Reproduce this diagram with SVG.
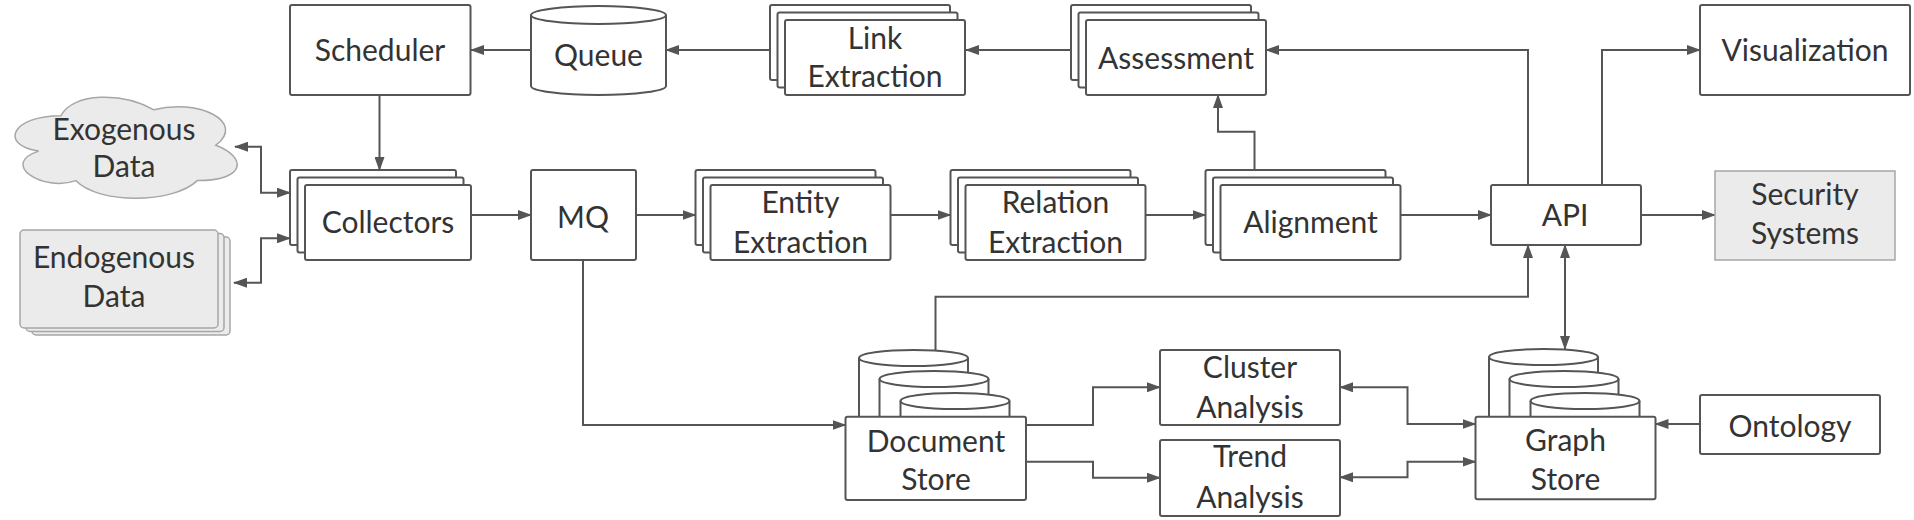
<svg xmlns="http://www.w3.org/2000/svg" width="1914" height="520" viewBox="0 0 1914 520">
<defs>
<style>
.b{fill:#fff;stroke:#555;stroke-width:2}
.g{fill:#ebebeb;stroke:#a6a6a6;stroke-width:1.5}
.t{font-family:Lato,"Liberation Sans",sans-serif;font-size:30px;fill:#333;text-anchor:middle}
.c{fill:none;stroke:#555;stroke-width:2}
</style>
<marker id="ah" viewBox="0 0 14 10" refX="13" refY="5" markerWidth="14" markerHeight="10" markerUnits="userSpaceOnUse" orient="auto-start-reverse">
<path d="M0,0 L14,5 L0,10 Z" fill="#555"/>
</marker>
</defs>
<rect width="1914" height="520" fill="#fff"/>

<g id="connectors">
<path class="c" d="M531,50 H471" marker-end="url(#ah)"/>
<path class="c" d="M770,50 H666" marker-end="url(#ah)"/>
<path class="c" d="M1071,50 H966" marker-end="url(#ah)"/>
<path class="c" d="M1528,185 V50 H1266" marker-end="url(#ah)"/>
<path class="c" d="M1602,185 V50 H1700" marker-end="url(#ah)"/>
<path class="c" d="M379.5,95 V170" marker-end="url(#ah)"/>
<path class="c" d="M235,146.7 H261 V192.7 H290" marker-start="url(#ah)" marker-end="url(#ah)"/>
<path class="c" d="M234,282.7 H261 V238.3 H290" marker-start="url(#ah)" marker-end="url(#ah)"/>
<path class="c" d="M471,215 H531" marker-end="url(#ah)"/>
<path class="c" d="M636,215 H695.5" marker-end="url(#ah)"/>
<path class="c" d="M890.5,215 H950.5" marker-end="url(#ah)"/>
<path class="c" d="M1145.5,215 H1205.5" marker-end="url(#ah)"/>
<path class="c" d="M1400.5,215 H1491" marker-end="url(#ah)"/>
<path class="c" d="M1641,215 H1715" marker-end="url(#ah)"/>
<path class="c" d="M1254.5,170 V131.7 H1218 V95" marker-end="url(#ah)"/>
<path class="c" d="M583,260 V425 H845.5" marker-end="url(#ah)"/>
<path class="c" d="M935.5,350 V296.7 H1528 V245" marker-end="url(#ah)"/>
<path class="c" d="M1565,245 V349" marker-start="url(#ah)" marker-end="url(#ah)"/>
<path class="c" d="M1026,425 H1093 V387.3 H1160" marker-end="url(#ah)"/>
<path class="c" d="M1026,461.7 H1093 V477.7 H1160" marker-end="url(#ah)"/>
<path class="c" d="M1340,387.3 H1407.5 V424 H1475.5" marker-start="url(#ah)" marker-end="url(#ah)"/>
<path class="c" d="M1340,477.3 H1407.5 V461.7 H1475.5" marker-start="url(#ah)" marker-end="url(#ah)"/>
<path class="c" d="M1700,424 H1655.5" marker-end="url(#ah)"/>
</g>

<g id="scheduler">
<rect class="b" x="290" y="5" width="180.5" height="90" rx="2"/>
<text class="t" x="380" y="61">Scheduler</text>
</g>

<g id="queue">
<path class="b" d="M531,15 A67.5,9 0 0 1 666,15 V86 A67.5,9 0 0 1 531,86 Z"/>
<path class="c" d="M531,15 A67.5,9 0 0 0 666,15"/>
<text class="t" x="598.5" y="65.5">Queue</text>
</g>

<g id="link-extraction">
<rect class="b" x="770" y="5" width="180" height="75" rx="2"/>
<rect class="b" x="777.5" y="12.5" width="180" height="75" rx="2"/>
<rect class="b" x="785" y="20" width="180" height="75" rx="2"/>
<text class="t" x="875" y="49.3">Link</text>
<text class="t" x="875" y="87.3">Extraction</text>
</g>

<g id="assessment">
<rect class="b" x="1071" y="5" width="180" height="75" rx="2"/>
<rect class="b" x="1078.5" y="12.5" width="180" height="75" rx="2"/>
<rect class="b" x="1086" y="20" width="180" height="75" rx="2"/>
<text class="t" x="1176" y="69">Assessment</text>
</g>

<g id="visualization">
<rect class="b" x="1700" y="5" width="210" height="90" rx="2"/>
<text class="t" x="1805" y="61">Visualization</text>
</g>

<g id="exogenous-data">
<path class="g" d="M60.9,115.7 C11.3,115.7 -1.1,145.2 38.6,151.1 C-1.1,164.1 43.5,192.4 75.8,180.6 C98.1,204.2 172.5,204.2 197.3,180.6 C246.9,180.6 246.9,157 215.9,145.2 C246.9,121.6 197.3,98 153.9,109.8 C122.9,92.1 73.3,92.1 60.9,115.7 Z"/>
<text class="t" x="124" y="140">Exogenous</text>
<text class="t" x="124" y="177.3">Data</text>
</g>

<g id="endogenous-data">
<rect class="g" x="32" y="237" width="198" height="98" rx="4"/>
<rect class="g" x="26" y="233.5" width="198" height="98" rx="4"/>
<rect class="g" x="20" y="230" width="198" height="98" rx="4"/>
<text class="t" x="114" y="268.3">Endogenous</text>
<text class="t" x="114" y="307.3">Data</text>
</g>

<g id="collectors">
<rect class="b" x="290" y="170" width="166" height="75" rx="2"/>
<rect class="b" x="297.5" y="177.5" width="166" height="75" rx="2"/>
<rect class="b" x="305" y="185" width="166" height="75" rx="2"/>
<text class="t" x="388" y="233.3">Collectors</text>
</g>

<g id="mq">
<rect class="b" x="531" y="170" width="105" height="90" rx="2"/>
<text class="t" x="583" y="228.3">MQ</text>
</g>

<g id="entity-extraction">
<rect class="b" x="695.5" y="170" width="180" height="75" rx="2"/>
<rect class="b" x="703" y="177.5" width="180" height="75" rx="2"/>
<rect class="b" x="710.5" y="185" width="180" height="75" rx="2"/>
<text class="t" x="800.5" y="213.3">Entity</text>
<text class="t" x="800.5" y="253.3">Extraction</text>
</g>

<g id="relation-extraction">
<rect class="b" x="950.5" y="170" width="180" height="75" rx="2"/>
<rect class="b" x="958" y="177.5" width="180" height="75" rx="2"/>
<rect class="b" x="965.5" y="185" width="180" height="75" rx="2"/>
<text class="t" x="1055.5" y="213.3">Relation</text>
<text class="t" x="1055.5" y="253.3">Extraction</text>
</g>

<g id="alignment">
<rect class="b" x="1205.5" y="170" width="180" height="75" rx="2"/>
<rect class="b" x="1213" y="177.5" width="180" height="75" rx="2"/>
<rect class="b" x="1220.5" y="185" width="180" height="75" rx="2"/>
<text class="t" x="1310.5" y="233.3">Alignment</text>
</g>

<g id="api">
<rect class="b" x="1491" y="185" width="150" height="60" rx="2"/>
<text class="t" x="1565" y="226">API</text>
</g>

<g id="security-systems">
<rect class="g" x="1715" y="171" width="180" height="89"/>
<text class="t" x="1805" y="205">Security</text>
<text class="t" x="1805" y="244">Systems</text>
</g>

<g id="document-store">
<path class="b" d="M859,358 A54.5,8 0 0 1 968,358 V417 H859 Z"/>
<path class="c" d="M859,358 A54.5,8 0 0 0 968,358"/>
<path class="b" d="M879.5,379 A54.5,8 0 0 1 988.5,379 V417 H879.5 Z"/>
<path class="c" d="M879.5,379 A54.5,8 0 0 0 988.5,379"/>
<path class="b" d="M900.5,401 A54.5,8 0 0 1 1009.5,401 V417 H900.5 Z"/>
<path class="c" d="M900.5,401 A54.5,8 0 0 0 1009.5,401"/>
<rect class="b" x="845.5" y="416.7" width="180.5" height="83.3" rx="2"/>
<text class="t" x="936" y="451.5">Document</text>
<text class="t" x="936" y="490">Store</text>
</g>

<g id="cluster-analysis">
<rect class="b" x="1160" y="350" width="180" height="75" rx="2"/>
<text class="t" x="1250" y="378.3">Cluster</text>
<text class="t" x="1250" y="418.3">Analysis</text>
</g>

<g id="trend-analysis">
<rect class="b" x="1160" y="440" width="180" height="76" rx="2"/>
<text class="t" x="1250" y="466.7">Trend</text>
<text class="t" x="1250" y="508.3">Analysis</text>
</g>

<g id="graph-store">
<path class="b" d="M1489,357 A54.5,8 0 0 1 1598,357 V417 H1489 Z"/>
<path class="c" d="M1489,357 A54.5,8 0 0 0 1598,357"/>
<path class="b" d="M1509.5,379 A54.5,8 0 0 1 1618.5,379 V417 H1509.5 Z"/>
<path class="c" d="M1509.5,379 A54.5,8 0 0 0 1618.5,379"/>
<path class="b" d="M1530.5,401 A54.5,8 0 0 1 1639.5,401 V417 H1530.5 Z"/>
<path class="c" d="M1530.5,401 A54.5,8 0 0 0 1639.5,401"/>
<rect class="b" x="1475.5" y="416.7" width="180" height="82.6" rx="2"/>
<text class="t" x="1565.5" y="450.7">Graph</text>
<text class="t" x="1565.5" y="490">Store</text>
</g>

<g id="ontology">
<rect class="b" x="1700" y="395" width="180" height="59" rx="2"/>
<text class="t" x="1790" y="436.7">Ontology</text>
</g>
</svg>
